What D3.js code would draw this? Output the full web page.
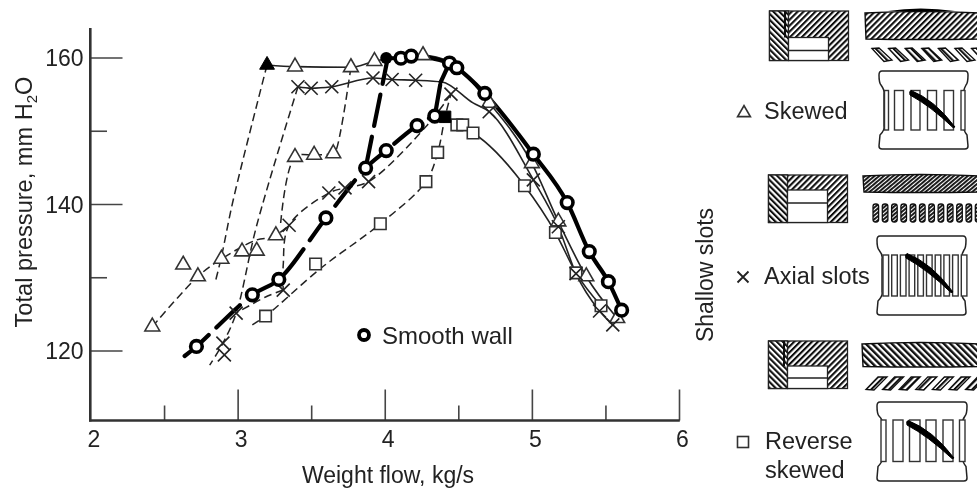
<!DOCTYPE html>
<html><head><meta charset="utf-8">
<script src="https://cdn.jsdelivr.net/npm/d3@7"></script>
<style>html,body{margin:0;padding:0;background:#fff}svg{display:block}text{font-family:"Liberation Sans",Arial,sans-serif;fill:#222}</style>
</head><body><div id="chart"></div>
<script>
// ---- data: [weight flow kg/s, total pressure mm H2O] ----
const xMajorTicks=[2,3,4,5,6], xMinorTicks=[2.5,3.5,4.5,5.5];
const yMajorTicks=[120,140,160], yMinorTicks=[130,150];
const smoothPeak=[[4.01,159.93],[4.11,159.9],[4.18,160.2],[4.44,159.25],[4.49,158.6],[4.68,155.1],[5.01,146.8],[5.24,140.2],[5.39,133.5],[5.52,129.4],[5.61,125.5]];
const smoothStall=[[2.64,119.25],[2.72,120.55],[3.10,127.6],[3.28,129.7],[3.60,138.1],[3.87,144.9],[4.01,147.3],[4.22,150.7],[4.34,152.0],[4.41,151.9]];
const smoothBranchA=[[3.87,144.9],[4.02,159.9]];
const smoothBranchB=[[4.34,152.0],[4.38,156.65]];
const smoothBranchC=[[4.38,156.65],[4.44,159.25]];
const smoothMarkers=[[4.11,159.9],[4.18,160.2],[4.44,159.25],[4.49,158.6],[4.68,155.1],[5.01,146.8],[5.24,140.2],[5.39,133.5],[5.52,129.4],[5.61,125.5],[2.72,120.55],[3.10,127.6],[3.28,129.7],[3.60,138.1],[3.87,144.9],[4.01,147.3],[4.22,150.7],[4.34,152.0]];
const skewedPeak=[[3.20,158.98],[3.39,158.75],[3.77,158.66],[3.93,159.5],[4.26,160.3],[4.44,159.4],[4.71,153.8],[5.00,145.55],[5.18,137.6],[5.37,130.1],[5.58,124.4]];
const skewedStallA=[[3.20,158.98],[2.97,140.55],[2.89,132.8],[2.85,129.5]];
const skewedStallB=[[3.77,158.66],[3.67,147.4],[3.65,146.9],[3.52,146.7],[3.39,146.4],[3.29,136.85]];
const skewedLow=[[2.42,123.25],[2.73,130.1],[2.89,132.5],[3.13,135.1],[3.24,135.5],[3.35,137.1]];
const skewedMarkers=[[3.39,158.75],[3.77,158.66],[3.93,159.5],[4.26,160.3],[4.71,153.8],[5.00,145.55],[5.18,137.6],[5.37,130.1],[5.58,124.4],[3.65,146.9],[3.52,146.7],[3.39,146.4],[2.42,123.25],[2.63,131.7],[2.73,130.1],[2.89,132.5],[3.03,133.5],[3.13,133.6],[3.26,135.7]];
const axialPeak=[[3.41,156.0],[3.50,155.8],[3.64,156.0],[3.92,157.2],[4.05,157.0],[4.21,156.9],[4.39,156.65],[4.60,153.8],[4.71,152.6],[5.01,143.3],[5.18,136.9],[5.30,130.5],[5.46,125.4],[5.55,123.5]];
const axialStallA=[[3.41,156.0],[3.13,137.1],[2.99,125.1],[2.90,121.0],[2.81,118.0]];
const axialStallB=[[4.45,155.0],[4.29,150.8],[3.89,143.05],[3.73,142.2],[3.62,141.5],[3.35,137.1],[3.31,131.7],[3.31,128.25]];
const axialStallC=[[3.31,128.25],[3.19,127.3],[2.99,125.1]];
const axialMarkers=[[3.41,156.0],[3.50,155.8],[3.64,156.0],[3.92,157.2],[4.05,157.0],[4.21,156.9],[4.45,155.0],[4.71,152.6],[5.01,143.3],[5.18,136.9],[5.30,130.5],[5.46,125.4],[5.55,123.5],[2.99,125.1],[2.90,121.0],[2.91,119.4],[3.89,143.05],[3.73,142.2],[3.62,141.5],[3.35,137.1],[3.31,128.25]];
const reversePeak=[[4.41,151.9],[4.49,150.8],[4.60,149.7],[4.95,142.5],[5.16,136.1],[5.30,130.6],[5.47,126.1]];
const reverseStall=[[3.10,123.5],[3.19,124.7],[3.57,131.3],[3.97,137.3],[4.28,143.05],[4.36,147.05],[4.41,151.9],[4.45,155.0]];
const reverseMarkers=[[4.49,150.8],[4.53,150.8],[4.60,149.7],[4.95,142.5],[5.16,136.1],[5.30,130.6],[5.47,126.1],[3.19,124.7],[3.53,131.8],[3.97,137.3],[4.28,143.05],[4.36,147.05]];
const filledTriangle=[[3.20,158.98]], filledCircle=[[4.01,159.93]], filledSquare=[[4.41,151.9]];

const W=977,H=488,ink="#222";
const svg=d3.select("#chart").append("svg").attr("width",W).attr("height",H).attr("viewBox",[0,0,W,H]);
const defs=svg.append("defs");
defs.append("filter").attr("id","soft").attr("x",0).attr("y",0).attr("width",1).attr("height",1)
  .append("feGaussianBlur").attr("stdDeviation",0.45);
function hatch(id,angle,gap,w){
  const p=defs.append("pattern").attr("id",id).attr("patternUnits","userSpaceOnUse")
    .attr("width",gap).attr("height",gap).attr("patternTransform",`rotate(${angle})`);
  p.append("rect").attr("width",gap).attr("height",gap).attr("fill","#fff");
  p.append("rect").attr("width",w).attr("height",gap).attr("fill","#111");
}
hatch("hf",45,4.2,2.1); hatch("hb",-45,4.2,2.1); hatch("hd",50,3,1.9); hatch("hbb",-45,4.6,2.4);

const root=svg.append("g").attr("filter","url(#soft)");
const x=d3.scaleLinear().domain([2,6]).range([90.5,679]);
const y=d3.scaleLinear().domain([160,120]).range([57.5,350.5]);
const axisY=420.5;

// axes
function styleAxis(g){g.select(".domain").remove();g.selectAll(".tick line").attr("stroke","#444").attr("stroke-width",1.6);
  g.selectAll("text").style("font-size","23px").attr("fill",ink);}
root.append("g").attr("transform",`translate(0,${axisY})`)
  .call(d3.axisBottom(x).tickValues(xMajorTicks).tickFormat(d3.format("d")).tickSizeInner(-31).tickSizeOuter(0).tickPadding(9))
  .call(styleAxis).call(g=>g.selectAll("text").attr("dx",3).attr("dy",null).attr("y",26.5))
  .call(g=>g.selectAll(".tick").filter(d=>d===2).select("line").remove());
root.append("g").attr("transform",`translate(0,${axisY})`)
  .call(d3.axisBottom(x).tickValues(xMinorTicks).tickFormat("").tickSizeInner(-15).tickSizeOuter(0)).call(styleAxis);
root.append("g").attr("transform","translate(90.5,0)")
  .call(d3.axisLeft(y).tickValues(yMajorTicks).tickFormat(d3.format("d")).tickSizeInner(-32).tickSizeOuter(0).tickPadding(7))
  .call(styleAxis).call(g=>g.selectAll("text").attr("dy",8.2));
root.append("g").attr("transform","translate(90.5,0)")
  .call(d3.axisLeft(y).tickValues(yMinorTicks).tickFormat("").tickSizeInner(-16.5).tickSizeOuter(0)).call(styleAxis);
root.append("line").attr("x1",90.3).attr("x2",90.3).attr("y1",28).attr("y2",axisY+1).attr("stroke","#333").attr("stroke-width",2.6);
root.append("line").attr("x1",89).attr("x2",x(6)+.8).attr("y1",axisY).attr("y2",axisY).attr("stroke","#333").attr("stroke-width",2.4);

root.append("text").attr("x",388).attr("y",483).attr("text-anchor","middle").style("font-size","23px").text("Weight flow, kg/s");
const yl=root.append("text").attr("transform","translate(32,202) rotate(-90)").attr("text-anchor","middle").style("font-size","23.6px");
yl.append("tspan").text("Total pressure, mm H");
yl.append("tspan").attr("dy",5).style("font-size","15px").text("2");
yl.append("tspan").attr("dy",-5).text("O");

// lines
const lineGen=d3.line().x(d=>x(d[0])).y(d=>y(d[1])).curve(d3.curveCatmullRom.alpha(0.5));
const peakGen=d3.line().x(d=>x(d[0])).y(d=>y(d[1])).curve(d3.curveMonotoneX);
const thin=(d,dash)=>root.append("path").datum(d).attr("d",dash?lineGen:peakGen).attr("fill","none").attr("stroke","#222")
  .attr("stroke-width",dash?1.5:1.6).attr("stroke-dasharray",dash?"8 4.5":null);
const thick=(d,dash)=>root.append("path").datum(d).attr("d",dash?lineGen:peakGen).attr("fill","none").attr("stroke","#000")
  .attr("stroke-width",dash?4.2:4.2).attr("stroke-dasharray",dash?"32 11":null).attr("stroke-linecap","round");
[skewedStallA,skewedStallB,skewedLow,axialStallA,axialStallB,axialStallC,reverseStall].forEach(d=>thin(d,true));
[skewedPeak,axialPeak,reversePeak].forEach(d=>thin(d,false));
thick(smoothStall,true);thick(smoothBranchA,true);thick(smoothBranchB,true);thick(smoothBranchC,false);thick(smoothPeak,false);

// markers
const tri=d3.symbol(d3.symbolTriangle,95)(), sq=d3.symbol(d3.symbolSquare,132)();
const timesPath="M-6.5,-6.5L6.5,6.5M-6.5,6.5L6.5,-6.5";
function marks(d,path,fill,stroke,sw){root.append("g").selectAll("path").data(d).join("path")
  .attr("transform",p=>`translate(${x(p[0])},${y(p[1])})`).attr("d",path)
  .attr("fill",fill).attr("stroke",stroke).attr("stroke-width",sw);}
marks(reverseMarkers,sq,"#fff","#333",1.6);
marks(skewedMarkers,tri,"#fff","#333",1.6);
marks(axialMarkers,timesPath,"none","#222",1.6);
marks(filledTriangle,tri,"#000","#000",1);
marks(filledSquare,sq,"#000","#000",1);
root.append("g").selectAll("circle").data(smoothMarkers).join("circle")
  .attr("cx",d=>x(d[0])).attr("cy",d=>y(d[1])).attr("r",5.8).attr("fill","#fff").attr("stroke","#000").attr("stroke-width",3.6);
root.append("g").selectAll("circle").data(filledCircle).join("circle")
  .attr("cx",d=>x(d[0])).attr("cy",d=>y(d[1])).attr("r",6).attr("fill","#000");

// legend and labels
root.append("circle").attr("cx",364).attr("cy",335).attr("r",5).attr("fill","#fff").attr("stroke","#000").attr("stroke-width",3.8);
const lab=(t,px,py,s)=>root.append("text").attr("x",px).attr("y",py).style("font-size",(s||23)+"px").text(t);
lab("Smooth wall",382,344,24);
lab("Skewed",764,119,23.5);
lab("Axial slots",764,284,23.5);
lab("Reverse",765,449,23.5);
lab("skewed",765,478,23.5);
root.append("text").attr("transform","translate(713,275) rotate(-90)").attr("text-anchor","middle").style("font-size","23px").text("Shallow slots");
root.append("path").attr("transform","translate(744,113)").attr("d",d3.symbol(d3.symbolTriangle,70)()).attr("fill","#fff").attr("stroke","#333").attr("stroke-width",1.7);
root.append("path").attr("transform","translate(743,277)").attr("d","M-5.5,-5.5L5.5,5.5M-5.5,5.5L5.5,-5.5").attr("stroke","#222").attr("stroke-width",1.8);
root.append("rect").attr("x",737.5).attr("y",436.5).attr("width",11).attr("height",11).attr("fill","#fff").attr("stroke","#333").attr("stroke-width",1.6);

// slot section sketches
function section(x0,y0,y1,innerTop,line,vert,rightHatch){
  const g=root.append("g");
  g.append("rect").attr("x",x0).attr("y",y0).attr("width",79).attr("height",y1-y0).attr("fill",`url(#${rightHatch})`).attr("stroke","#222").attr("stroke-width",1.3);
  g.append("rect").attr("x",x0).attr("y",y0).attr("width",19).attr("height",y1-y0).attr("fill","url(#hb)").attr("stroke","#222").attr("stroke-width",1.3);
  g.append("rect").attr("x",x0+19).attr("y",innerTop).attr("width",40).attr("height",y1-innerTop).attr("fill","#fff").attr("stroke","#222").attr("stroke-width",1.3);
  g.append("line").attr("x1",x0+19).attr("x2",x0+59).attr("y1",line).attr("y2",line).attr("stroke","#222").attr("stroke-width",1.3);
  if(vert)g.append("line").attr("x1",x0+15.5).attr("x2",x0+15.5).attr("y1",y0).attr("y2",innerTop).attr("stroke","#111").attr("stroke-width",2);
}
section(769.5,11,60.5,37.5,50.5,true,"hf");
section(768.5,175,222.5,190,203,false,"hf");
section(768.5,341,388.5,366,378,true,"hf");

function band(x0,y0,y1,hatchId){
  root.append("path").attr("d",`M${x0},${y0+1}Q920,${y0-2} 980,${y0+1}L980,${y1}Q920,${y1+1} ${x0+1},${y1}Z`)
    .attr("fill",`url(#${hatchId})`).attr("stroke","#111").attr("stroke-width",1.4);
}
band(865,12,39,"hf");
root.append("path").attr("d","M888,11Q920,6 955,11Z").attr("fill","#000");
band(863,175,192,"hd");
band(862,343,366.5,"hbb");

// blade rows
d3.range(7).forEach(i=>{const a=872+i*16.6;
  root.append("path").attr("d",`M${a},48.5L${a+7},48L${a+20},60L${a+12},61.5Z`).attr("fill","url(#hb)").attr("stroke","#111").attr("stroke-width",1.3);});
d3.range(12).forEach(i=>{const a=873+i*9.3;
  root.append("rect").attr("x",a).attr("y",204).attr("width",5.6).attr("height",18).attr("rx",2.5).attr("fill","url(#hd)").attr("stroke","#111").attr("stroke-width",1.3);});
d3.range(7).forEach(i=>{const a=866+i*16.6;
  root.append("path").attr("d",`M${a},389.5L${a+12},377L${a+21},377L${a+8},390Z`).attr("fill","url(#hf)").attr("stroke","#111").attr("stroke-width",1.3);});

// blade passage plans
function plan(x0,y0,x1,y1,sTop,sBot,slots,blade){
  const g=root.append("g");
  g.append("path").attr("d",`M${x0+3},${y0}L${x1-3},${y0}Q${x1},${y0} ${x1},${y0+4}Q${x1},${y0+12} ${x1-2},${y0+14}Q${x1-5},${sTop} ${x1-4},${sTop+4}L${x1-4},${sBot-4}Q${x1-5},${sBot} ${x1-1},${sBot+5}L${x1},${y1-3}Q${x1},${y1} ${x1-3},${y1}L${x0+3},${y1}Q${x0},${y1} ${x0},${y1-3}L${x0+1},${sBot+5}Q${x0+6},${sBot} ${x0+5},${sBot-4}L${x0+5},${sTop+4}Q${x0+6},${sTop} ${x0+2},${y0+14}Q${x0},${y0+12} ${x0},${y0+4}Q${x0},${y0} ${x0+3},${y0}Z`)
   .attr("fill","#fff").attr("stroke","#222").attr("stroke-width",1.5);
  slots.forEach(s=>g.append("rect").attr("x",s[0]).attr("y",sTop).attr("width",s[1]-s[0]).attr("height",sBot-sTop).attr("fill","#fff").attr("stroke","#333").attr("stroke-width",1.4));
  const [a,b,c,d]=blade;
  g.append("path").attr("d",`M${a},${b-2.5}Q${a+(c-a)*.55},${b+(d-b)*.2} ${c+1},${d}L${c-1},${d+.6}Q${a+(c-a)*.45},${b+(d-b)*.38} ${a-1},${b+2}Q${a-2},${b-2} ${a},${b-2.5}Z`).attr("fill","#000").attr("stroke","#000").attr("stroke-width",1);
}
const wide=[[884.5,888.5],[894.5,903.5],[911,920],[927.5,936.5],[944,953.5],[961,965]];
plan(879,71,968,149,90.5,130,wide,[911,93,954,127]);
plan(877,236,966,315,255,296,d3.range(10).map(i=>{const a=883+i*8.7;return [a,a+5.6];}),[907,256,952,292]);
plan(877,402,967,481,420,461.5,[[881,886],[893,903],[909.5,920],[926,936],[943,953],[959.5,965]],[908,423,953,458]);
</script></body></html>
